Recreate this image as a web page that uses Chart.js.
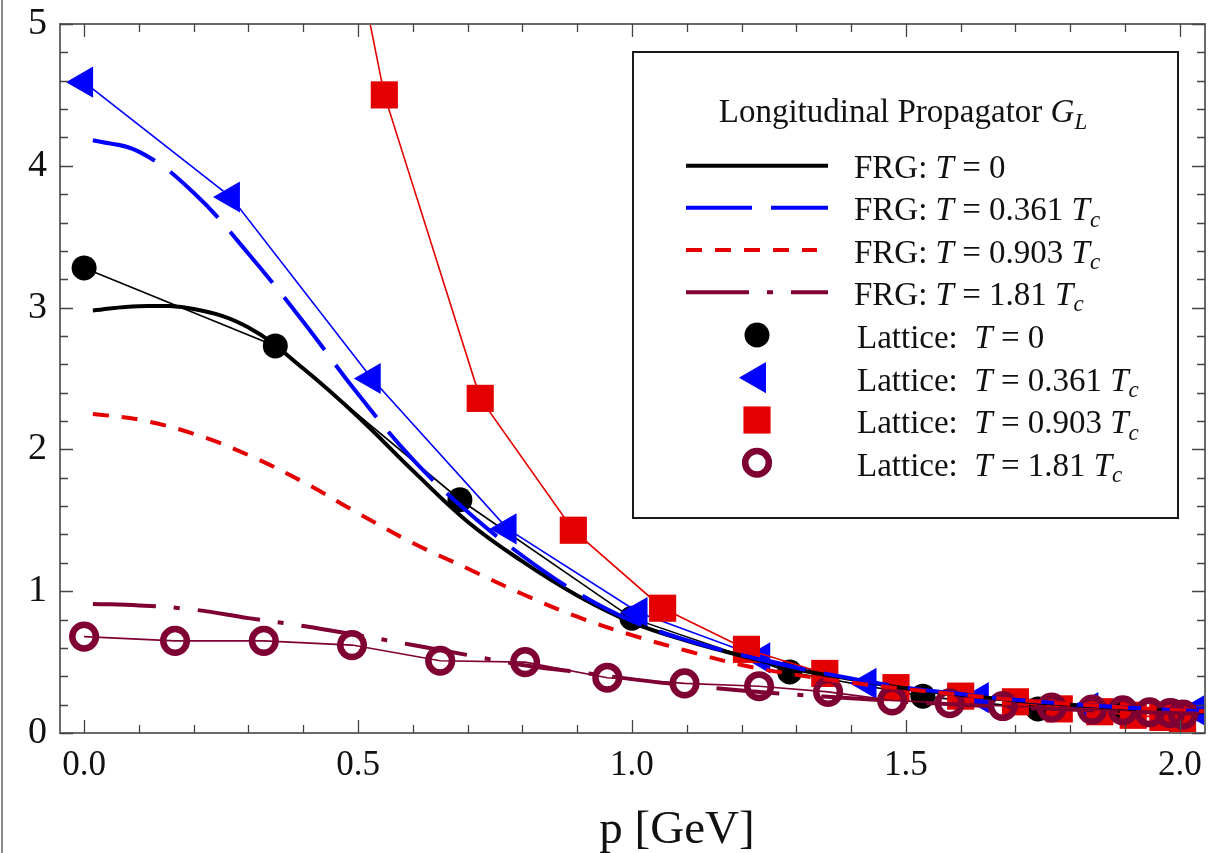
<!DOCTYPE html>
<html>
<head>
<meta charset="utf-8">
<script src="https://cdn.jsdelivr.net/npm/chart.js"></script>
<style>
html,body{margin:0;padding:0;background:#fff;}
#wrap{position:relative;width:1210px;height:853px;overflow:hidden;}
canvas{display:block;}
</style>
</head>
<body>
<div id="wrap"><canvas id="c" width="1210" height="853"></canvas></div>
<script>
// ---------- data ----------
// FRG curves: common momentum grid [GeV]
const frgP = [0.016, 0.1, 0.2, 0.3, 0.4, 0.5, 0.6, 0.7, 0.8, 0.9, 1.0, 1.1, 1.2, 1.3, 1.4, 1.5, 1.6, 1.7, 1.8, 1.9, 2.0, 2.05];
const frgT0   = [2.98, 3.01, 2.99, 2.86, 2.57, 2.23, 1.85, 1.49, 1.21, 0.97, 0.78, 0.65, 0.545, 0.45, 0.38, 0.315, 0.27, 0.23, 0.20, 0.175, 0.155, 0.148];
const frgT361 = [4.18, 4.10, 3.81, 3.38, 2.90, 2.39, 1.93, 1.56, 1.25, 0.99, 0.79, 0.655, 0.55, 0.46, 0.385, 0.32, 0.275, 0.235, 0.205, 0.18, 0.16, 0.152];
const frgT903 = [2.25, 2.21, 2.11, 1.96, 1.77, 1.55, 1.34, 1.16, 0.98, 0.82, 0.69, 0.58, 0.48, 0.41, 0.355, 0.31, 0.27, 0.235, 0.205, 0.18, 0.16, 0.153];
const frgT181 = [0.91, 0.90, 0.87, 0.81, 0.755, 0.69, 0.62, 0.55, 0.48, 0.43, 0.38, 0.335, 0.30, 0.27, 0.245, 0.22, 0.20, 0.18, 0.165, 0.15, 0.14, 0.135];

// Lattice data
const latT0P = [0.0, 0.349, 0.686, 1.0, 1.288, 1.531, 1.741, 1.896, 1.987];
const latT0G = [3.28, 2.73, 1.645, 0.81, 0.43, 0.26, 0.17, 0.16, 0.155];
const latT361P = [0.0, 0.268, 0.525, 0.773, 1.012, 1.236, 1.43, 1.635, 1.835, 2.03];
const latT361G = [4.59, 3.78, 2.50, 1.44, 0.85, 0.53, 0.35, 0.25, 0.18, 0.16];
const latT903P = [0.367, 0.548, 0.723, 0.893, 1.056, 1.209, 1.352, 1.482, 1.60, 1.70, 1.78, 1.854, 1.915, 1.969, 2.005];
const latT903G = [8.0, 4.50, 2.36, 1.43, 0.88, 0.59, 0.42, 0.32, 0.26, 0.22, 0.17, 0.15, 0.125, 0.11, 0.10];
const latT181P = [0.0, 0.166, 0.328, 0.489, 0.65, 0.805, 0.955, 1.096, 1.232, 1.358, 1.475, 1.58, 1.677, 1.766, 1.84, 1.896, 1.945, 1.982, 2.006];
const latT181G = [0.68, 0.65, 0.65, 0.62, 0.51, 0.50, 0.39, 0.35, 0.33, 0.29, 0.23, 0.21, 0.19, 0.18, 0.165, 0.16, 0.146, 0.14, 0.13];

// Axis ticks and labels
const xTickValues = [0, 0.5, 1.0, 1.5, 2.0];
const xTickLabels = ['0.0', '0.5', '1.0', '1.5', '2.0'];
const yTickValues = [0, 1, 2, 3, 4, 5];
const yTickLabels = ['0', '1', '2', '3', '4', '5'];
const xAxisTitle = 'p [GeV]';
const legendTitle = [{t: 'Longitudinal Propagator '}, {t: 'G', it: true}, {t: 'L', it: true, sub: true}];

// Legend entry texts
const legendTexts = [
  [{t: 'FRG: '}, {t: 'T', it: true}, {t: ' = 0'}],
  [{t: 'FRG: '}, {t: 'T', it: true}, {t: ' = 0.361 '}, {t: 'T', it: true}, {t: 'c', it: true, sub: true}],
  [{t: 'FRG: '}, {t: 'T', it: true}, {t: ' = 0.903 '}, {t: 'T', it: true}, {t: 'c', it: true, sub: true}],
  [{t: 'FRG: '}, {t: 'T', it: true}, {t: ' = 1.81 '}, {t: 'T', it: true}, {t: 'c', it: true, sub: true}],
  [{t: 'Lattice:  '}, {t: 'T', it: true}, {t: ' = 0'}],
  [{t: 'Lattice:  '}, {t: 'T', it: true}, {t: ' = 0.361 '}, {t: 'T', it: true}, {t: 'c', it: true, sub: true}],
  [{t: 'Lattice:  '}, {t: 'T', it: true}, {t: ' = 0.903 '}, {t: 'T', it: true}, {t: 'c', it: true, sub: true}],
  [{t: 'Lattice:  '}, {t: 'T', it: true}, {t: ' = 1.81 '}, {t: 'T', it: true}, {t: 'c', it: true, sub: true}]
];

// ---------- styling ----------
const BLACK = '#000000', BLUE = '#0000ff', RED = '#e40000', MAROON = '#7f0033';
const SERIF = '"Liberation Serif", "Times New Roman", serif';
const xy = (ps, gs) => ps.map((p, i) => ({x: p, y: gs[i]}));

const frgStyle = [
  {color: BLACK, dash: []},
  {color: BLUE, dash: [66, 19]},
  {color: RED, dash: [16, 13]},
  {color: MAROON, dash: [63, 18, 6, 18]}
];
const latStyle = [
  {color: BLACK, style: 'circle', r: 12.5, bw: 0, bg: BLACK, rot: 0},
  {color: BLUE, style: 'triangle', r: 16, bw: 2, bg: BLUE, rot: -90},
  {color: RED, style: 'rect', r: 19.2, bw: 0, bg: RED, rot: 0},
  {color: MAROON, style: 'circle', r: 11.8, bw: 6.5, bg: 'rgba(0,0,0,0)', rot: 0}
];

function frgDataset(label, data, st, order) {
  return {
    label, data, showLine: true, order,
    borderColor: st.color, borderWidth: 4, borderDash: st.dash, borderCapStyle: 'butt',
    tension: 0.4, pointRadius: 0, pointHoverRadius: 0, fill: false
  };
}
function latDataset(label, data, st, order) {
  return {
    label, data, showLine: true, order, tension: 0,
    borderColor: st.color, borderWidth: 1.6, fill: false,
    pointStyle: st.style, pointRadius: st.r, pointHoverRadius: st.r, pointRotation: st.rot,
    pointBackgroundColor: st.bg, pointBorderColor: st.color, pointBorderWidth: st.bw
  };
}

const datasets = [
  latDataset('Lattice: T = 0', xy(latT0P, latT0G), latStyle[0], 8),
  latDataset('Lattice: T = 0.361 Tc', xy(latT361P, latT361G), latStyle[1], 7),
  latDataset('Lattice: T = 0.903 Tc', xy(latT903P, latT903G), latStyle[2], 6),
  latDataset('Lattice: T = 1.81 Tc', xy(latT181P, latT181G), latStyle[3], 5),
  frgDataset('FRG: T = 0', xy(frgP, frgT0), frgStyle[0], 4),
  frgDataset('FRG: T = 0.361 Tc', xy(frgP, frgT361), frgStyle[1], 3),
  frgDataset('FRG: T = 0.903 Tc', xy(frgP, frgT903), frgStyle[2], 2),
  frgDataset('FRG: T = 1.81 Tc', xy(frgP, frgT181), frgStyle[3], 1)
];

function drawRich(ctx, segs, x, y, size, align) {
  const parts = segs.map(s => {
    const fs = s.sub ? size * 0.7 : size;
    const font = (s.it ? 'italic ' : '') + fs + 'px ' + SERIF;
    ctx.font = font;
    return {t: s.t, font, w: ctx.measureText(s.t).width, dy: s.sub ? size * 0.2 : 0};
  });
  const total = parts.reduce((a, p) => a + p.w, 0);
  let cx = align === 'center' ? x - total / 2 : x;
  ctx.textAlign = 'left';
  ctx.textBaseline = 'alphabetic';
  ctx.fillStyle = '#111';
  parts.forEach(p => { ctx.font = p.font; ctx.fillText(p.t, cx, y + p.dy); cx += p.w; });
}

function drawMarker(ctx, st, x, y) {
  ctx.save();
  ctx.fillStyle = st.bg;
  ctx.strokeStyle = st.color;
  ctx.lineWidth = st.bw;
  const opts = {pointStyle: st.style, rotation: st.rot, radius: st.r, borderWidth: st.bw};
  if (Chart.helpers && Chart.helpers.drawPoint) {
    Chart.helpers.drawPoint(ctx, opts, x, y);
  } else {
    ctx.beginPath(); ctx.arc(x, y, st.r, 0, Math.PI * 2); ctx.fill(); if (st.bw) ctx.stroke();
  }
  ctx.restore();
}

const decorPlugin = {
  id: 'decor',
  afterDatasetsDraw(chart) {
    const ctx = chart.ctx, a = chart.chartArea, xs = chart.scales.x, ys = chart.scales.y;
    ctx.save();
    // frame
    ctx.strokeStyle = '#6a6a6a';
    ctx.lineWidth = 2;
    ctx.strokeRect(a.left, a.top, a.right - a.left, a.bottom - a.top);
    // inward ticks
    ctx.strokeStyle = '#444';
    ctx.lineWidth = 1.3;
    ctx.beginPath();
    for (let k = 0; k <= 20; k++) {
      const v = k / 10;
      const px = Math.round(xs.getPixelForValue(v)) + 0.5;
      const len = (k % 5 === 0) ? 13 : 8;
      ctx.moveTo(px, a.bottom); ctx.lineTo(px, a.bottom - len);
      ctx.moveTo(px, a.top); ctx.lineTo(px, a.top + len);
    }
    for (let k = 0; k <= 25; k++) {
      const v = k / 5;
      const py = Math.round(ys.getPixelForValue(v)) + 0.5;
      const len = (k % 5 === 0) ? 13 : 8;
      ctx.moveTo(a.left, py); ctx.lineTo(a.left + len, py);
      ctx.moveTo(a.right, py); ctx.lineTo(a.right - len, py);
    }
    ctx.stroke();

    // axis title
    ctx.fillStyle = '#111';
    ctx.font = '47px ' + SERIF;
    ctx.textAlign = 'center';
    ctx.textBaseline = 'alphabetic';
    ctx.fillText(xAxisTitle, 677, 843);

    // left page border
    ctx.strokeStyle = '#8a8a8a';
    ctx.lineWidth = 2;
    ctx.beginPath(); ctx.moveTo(2, 0); ctx.lineTo(2, 853); ctx.stroke();

    // legend box
    const L = {x0: 633, y0: 52, x1: 1178, y1: 518};
    ctx.fillStyle = '#fff';
    ctx.fillRect(L.x0, L.y0, L.x1 - L.x0, L.y1 - L.y0);
    ctx.strokeStyle = '#1a1a1a';
    ctx.lineWidth = 2;
    ctx.strokeRect(L.x0, L.y0, L.x1 - L.x0, L.y1 - L.y0);
    drawRich(ctx, legendTitle, 903, 122, 33, 'center');
    const rowsY = [165.7, 207.7, 250, 292.3, 335, 377.7, 420, 462.7];
    for (let i = 0; i < 4; i++) {
      const st = frgStyle[i];
      ctx.save();
      ctx.strokeStyle = st.color; ctx.lineWidth = 4; ctx.lineCap = 'butt';
      ctx.setLineDash(st.dash);
      ctx.beginPath(); ctx.moveTo(686, rowsY[i]); ctx.lineTo(i === 2 ? 817 : 828, rowsY[i]); ctx.stroke();
      ctx.restore();
      drawRich(ctx, legendTexts[i], 854, rowsY[i] + 12.5, 33, 'left');
    }
    for (let i = 0; i < 4; i++) {
      drawMarker(ctx, latStyle[i], 757, rowsY[4 + i]);
      drawRich(ctx, legendTexts[4 + i], 857, rowsY[4 + i] + 13, 33, 'left');
    }
    ctx.restore();
  }
};

new Chart(document.getElementById('c'), {
  type: 'scatter',
  data: {datasets},
  options: {
    responsive: false,
    devicePixelRatio: 1,
    animation: false,
    events: [],
    layout: {autoPadding: false, padding: {left: 0, top: 24, right: 5, bottom: 0}},
    plugins: {legend: {display: false}, tooltip: {enabled: false}, title: {display: false}},
    scales: {
      x: {
        type: 'linear', min: -0.044, max: 2.046,
        grid: {display: false, drawTicks: false},
        border: {display: false},
        afterBuildTicks: s => { s.ticks = xTickValues.map(v => ({value: v})); },
        afterFit: s => { s.height = 120; s.paddingLeft = 0; s.paddingRight = 0; s.paddingTop = 0; s.paddingBottom = 0; },
        ticks: {
          padding: 12, color: '#111', maxRotation: 0, autoSkip: false,
          font: {family: SERIF, size: 35},
          callback: v => { const i = xTickValues.findIndex(t => Math.abs(t - v) < 1e-9); return i >= 0 ? xTickLabels[i] : ''; }
        }
      },
      y: {
        type: 'linear', min: 0, max: 5,
        grid: {display: false, drawTicks: false},
        border: {display: false},
        afterBuildTicks: s => { s.ticks = yTickValues.map(v => ({value: v})); },
        afterFit: s => { s.width = 60; s.paddingLeft = 0; s.paddingRight = 0; s.paddingTop = 0; s.paddingBottom = 0; },
        ticks: {
          padding: 13, color: '#111', autoSkip: false,
          font: {family: SERIF, size: 38},
          callback: v => { const i = yTickValues.findIndex(t => Math.abs(t - v) < 1e-9); return i >= 0 ? yTickLabels[i] : ''; }
        }
      }
    }
  },
  plugins: [decorPlugin]
});
</script>
</body>
</html>
